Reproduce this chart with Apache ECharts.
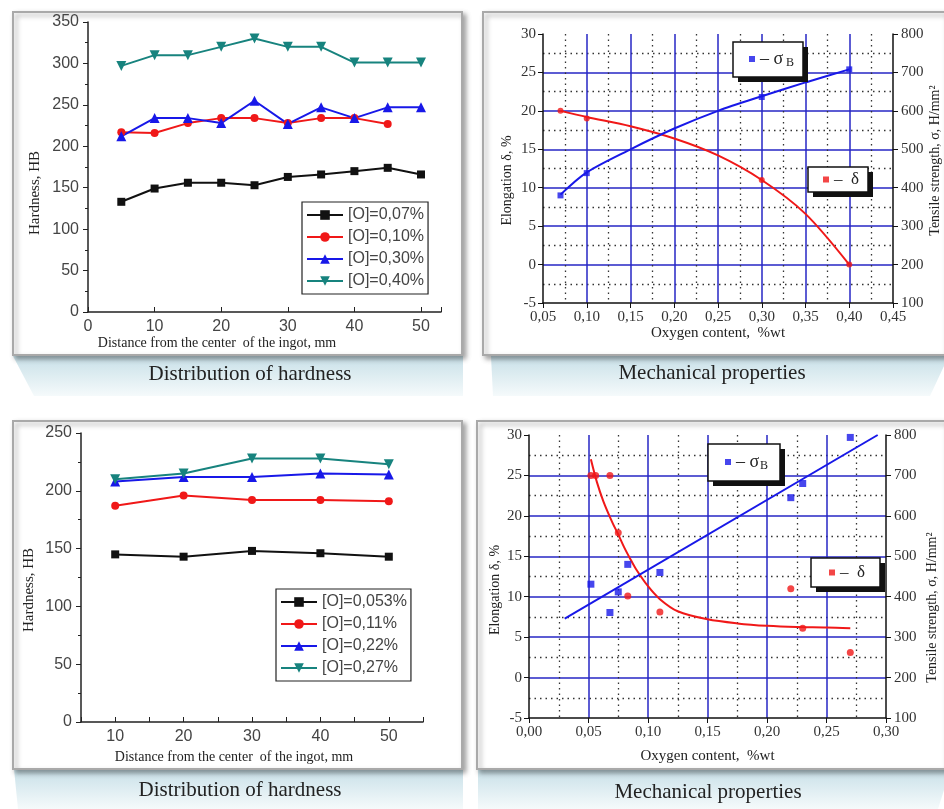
<!DOCTYPE html>
<html>
<head>
<meta charset="utf-8">
<script src="https://cdn.jsdelivr.net/npm/echarts@6/dist/echarts.min.js"></script>
<style>
  html, body { margin: 0; padding: 0; background: #fff; }
  #chart { width: 944px; height: 809px; }
</style>
</head>
<body>
<div id="chart"></div>
<script>
// --- Distribution of hardness, top panel
const distTop = [5, 10, 15, 20, 25, 30, 35, 40, 45, 50];
const hb007 = [133, 149, 156, 156, 153, 163, 166, 170, 174, 166];
const hb010 = [217, 216, 228, 234, 234, 228, 234, 234, 227];
const hb030 = [212, 234, 234, 228, 255, 227, 247, 234, 247, 247];
const hb040 = [297, 310, 310, 320, 330, 320, 320, 301, 301, 301];
const namesTop = ['[O]=0,07%', '[O]=0,10%', '[O]=0,30%', '[O]=0,40%'];

// --- Distribution of hardness, bottom panel
const distBottom = [10, 20, 30, 40, 50];
const hb0053 = [145, 143, 148, 146, 143];
const hb011 = [187, 196, 192, 192, 191];
const hb022 = [208, 212, 212, 215, 214];
const hb027 = [210, 215, 228, 228, 223];
const namesBottom = ['[O]=0,053%', '[O]=0,11%', '[O]=0,22%', '[O]=0,27%'];

// --- Mechanical properties, top panel
const oxygenTop = [0.07, 0.10, 0.30, 0.40];
const elongTop = [20, 19, 11, 0];
const strengthTop = [380, 438, 636, 708];
const fitOxygenTop = [0.07, 0.10, 0.15, 0.20, 0.25, 0.30, 0.35, 0.40];
const fitElongTop = [20, 19.2, 18, 16.4, 14.2, 11, 6.6, 0];
const fitStrengthTop = [382, 440, 500, 554, 600, 638, 674, 708];

// --- Mechanical properties, bottom panel
const oxygenSigmaBottom = [0.052, 0.068, 0.075, 0.083, 0.11, 0.22, 0.23, 0.27];
const strengthBottom = [431, 361, 412, 480, 460, 645, 680, 794];
const oxygenDeltaBottom = [0.052, 0.056, 0.068, 0.075, 0.083, 0.11, 0.22, 0.23, 0.27];
const elongBottom = [25, 25, 25, 17.9, 10.1, 8.1, 11, 6.1, 3.1];
const fitOxygenDeltaBottom = [0.052, 0.057, 0.0625, 0.07, 0.075, 0.08, 0.085, 0.09, 0.10, 0.11, 0.125, 0.15, 0.175, 0.20, 0.225, 0.25, 0.27];
const fitElongBottom = [27, 24.2, 21.8, 19.2, 17.7, 16.1, 14.7, 13.4, 11.3, 9.7, 8.2, 7.2, 6.7, 6.4, 6.25, 6.2, 6.1];
const fitOxygenSigmaBottom = [0.03, 0.293];
const fitStrengthBottom = [346, 800];

const legendText = {
  sigmaTop: '{t|– σ}{s|B}', sigmaBottom: '{t|– σ}{s|B}',
  deltaTop: '{d|–  δ}', deltaBottom: '{d|–  δ}'
};

const SERIF = "'Liberation Serif', 'Times New Roman', serif";
const SANS = "'Liberation Sans', Arial, sans-serif";
const GRID_BLUE = '#2626c4';
const RED = '#f01818';
const BLUE = '#1818e8';

const zip = (xs, ys) => ys.map((y, i) => [xs[i], y]);

function hardLine(name, xs, ys, color, symbol, size, rotate, axis) {
  return {
    name, type: 'line', xAxisIndex: axis, yAxisIndex: axis === 0 ? 0 : 3,
    data: zip(xs, ys), symbol, symbolSize: size, symbolRotate: rotate,
    color, lineStyle: { color, width: 2 }, itemStyle: { color }
  };
}

function hardX(gridIndex, min, max, interval, nameGap, shift) {
  return {
    type: 'value', gridIndex, min, max, interval,
    name: 'Distance from the center  of the ingot, mm', nameLocation: 'middle', nameGap,
    nameTextStyle: { fontFamily: SERIF, fontSize: 14, color: '#222', padding: [0, shift, 0, 0] },
    axisLine: { onZero: false, lineStyle: { color: '#222', width: 1.5 } },
    axisTick: { inside: true, length: 5, lineStyle: { color: '#222' } },
    axisLabel: { fontFamily: SANS, fontSize: 16, color: '#444', margin: 7,
      formatter: v => (v % 10 === 0 && v <= 50) ? String(v) : '' },
    splitLine: { show: false }
  };
}

function hardY(gridIndex, max, nameGap, shift) {
  return {
    type: 'value', gridIndex, min: 0, max, interval: 50,
    name: 'Hardness, HB', nameLocation: 'middle', nameGap,
    nameTextStyle: { fontFamily: SERIF, fontSize: 15, color: '#222', padding: [0, shift, 0, 0] },
    axisLine: { show: true, onZero: false, lineStyle: { color: '#222', width: 1.5 } },
    axisTick: { length: 5, lineStyle: { color: '#222' } },
    minorTick: { show: true, splitNumber: 2, length: 3, lineStyle: { color: '#222' } },
    axisLabel: { fontFamily: SANS, fontSize: 16, color: '#444', margin: 9 },
    splitLine: { show: false }
  };
}

function mechX(gridIndex, min, max, nameGap) {
  return {
    type: 'value', gridIndex, min, max, interval: 0.05,
    name: 'Oxygen content,  %wt', nameLocation: 'middle', nameGap,
    nameTextStyle: { fontFamily: SERIF, fontSize: 15, color: '#222' },
    axisLine: { onZero: false, lineStyle: { color: '#111', width: 1.5 } },
    axisTick: { length: 5, lineStyle: { color: '#111' } },
    axisLabel: { fontFamily: SERIF, fontSize: 15, color: '#333', margin: 7,
      formatter: v => v.toFixed(2).replace('.', ',') },
    splitLine: { show: true, showMinLine: false, showMaxLine: false, lineStyle: { color: GRID_BLUE, width: 1.5 } },
    minorTick: { show: false, splitNumber: 2 },
    minorSplitLine: { show: true, lineStyle: { color: '#333', width: 1.3, type: [1.5, 4] } }
  };
}

function mechYLeft(gridIndex, nameGap, shift) {
  return {
    type: 'value', gridIndex, min: -5, max: 30, interval: 5,
    name: 'Elongation δ, %', nameLocation: 'middle', nameGap,
    nameTextStyle: { fontFamily: SERIF, fontSize: 14, color: '#222', padding: [0, shift, 0, 0] },
    axisLine: { show: true, onZero: false, lineStyle: { color: '#111', width: 1.5 } },
    axisTick: { length: 5, lineStyle: { color: '#111' } },
    axisLabel: { fontFamily: SERIF, fontSize: 15, color: '#333', margin: 7 },
    splitLine: { show: true, showMinLine: false, showMaxLine: false, lineStyle: { color: GRID_BLUE, width: 1.5 } },
    minorTick: { show: false, splitNumber: 2 },
    minorSplitLine: { show: true, lineStyle: { color: '#333', width: 1.3, type: [1.5, 4] } }
  };
}

function mechYRight(gridIndex, nameGap, padding) {
  return {
    type: 'value', gridIndex, min: 100, max: 800, interval: 100, position: 'right',
    name: 'Tensile strength, σ, H/mm²', nameLocation: 'middle', nameGap, nameRotate: 90,
    nameTextStyle: { fontFamily: SERIF, fontSize: 14, color: '#222', padding },
    axisLine: { show: true, onZero: false, lineStyle: { color: '#111', width: 1.5 } },
    axisTick: { length: 5, lineStyle: { color: '#111' } },
    axisLabel: { fontFamily: SERIF, fontSize: 15, color: '#333', margin: 8 },
    splitLine: { show: false }
  };
}

// boxed legend of the mechanical charts; the drop shadow is a graphic rect behind it
function mechLegend(name, left, top, padding, gap, textWidth) {
  return {
    data: [name], left, top, icon: 'rect', itemWidth: 6, itemHeight: 6, itemTextGap: gap,
    selectedMode: false, backgroundColor: '#fff', borderColor: '#111', borderWidth: 1.5,
    borderRadius: 0, padding, z: 6,
    formatter: n => legendText[n],
    textStyle: { fontFamily: SERIF, fontSize: 17, color: '#222',
      rich: {
        t: { fontFamily: SERIF, fontSize: 18, color: '#222', width: textWidth - 10, lineHeight: 20 },
        s: { fontFamily: SERIF, fontSize: 12, color: '#222', width: 9, lineHeight: 12, padding: [8, 0, 0, 1] },
        d: { fontFamily: SERIF, fontSize: 17, color: '#222', width: textWidth, lineHeight: 17 }
      } }
  };
}

function legendShadow(x, y, width, height) {
  return { type: 'rect', z: 5, shape: { x: x + 5, y: y + 5, width, height }, style: { fill: '#111' } };
}

function hardLegend(data, left, top) {
  return {
    data, left, top, orient: 'vertical', itemWidth: 36, itemHeight: 12, itemGap: 4, itemTextGap: 3,
    selectedMode: false, borderColor: '#222', borderWidth: 1.2, borderRadius: 0, padding: [4, 4, 4, 4],
    textStyle: { fontFamily: SANS, fontSize: 16, color: '#444', lineHeight: 18 }
  };
}

const tabFill = {
  type: 'linear', x: 0, y: 0, x2: 0, y2: 1,
  colorStops: [{ offset: 0, color: '#c8e0e8' }, { offset: 1, color: '#f5fafb' }]
};
const frameStyle = { fill: '#fff', stroke: '#a9a9a9', lineWidth: 2,
  shadowBlur: 5, shadowOffsetX: 3, shadowOffsetY: 3, shadowColor: 'rgba(0,0,0,0.35)' };

function caption(text, x, y) {
  return { type: 'text', x, y, z: 5, style: { text, fontFamily: SERIF, fontSize: 21, fill: '#222',
    align: 'center', verticalAlign: 'middle' } };
}

const chart = echarts.init(document.getElementById('chart'));

chart.setOption({
  backgroundColor: '#fff',
  animation: false,
  graphic: { elements: [
    { type: 'polygon', z: -20, shape: { points: [[13, 356], [463, 356], [463, 396], [34, 396]] }, style: { fill: tabFill } },
    { type: 'polygon', z: -20, shape: { points: [[491, 356], [944, 356], [944, 366], [930, 396], [493, 396]] }, style: { fill: tabFill } },
    { type: 'polygon', z: -20, shape: { points: [[14, 769], [463, 769], [463, 809], [18, 809]] }, style: { fill: tabFill } },
    { type: 'polygon', z: -20, shape: { points: [[478, 769], [944, 769], [944, 790], [938, 809], [478, 809]] }, style: { fill: tabFill } },
    { type: 'rect', z: -10, shape: { x: 13, y: 12, width: 449, height: 343 }, style: frameStyle },
    { type: 'rect', z: -10, shape: { x: 483, y: 12, width: 462, height: 343 }, style: frameStyle },
    { type: 'rect', z: -10, shape: { x: 13, y: 421, width: 449, height: 348 }, style: frameStyle },
    { type: 'rect', z: -10, shape: { x: 477, y: 421, width: 468, height: 348 }, style: frameStyle },
    legendShadow(733, 42, 70, 35),
    legendShadow(808, 167, 60, 25),
    legendShadow(708, 444, 72, 37),
    legendShadow(811, 558, 69, 29),
    caption('Distribution of hardness', 250, 374),
    caption('Mechanical properties', 712, 373),
    caption('Distribution of hardness', 240, 790),
    caption('Mechanical properties', 708, 792)
  ] },
  grid: [
    { left: 88, top: 22, width: 353, height: 290 },
    { left: 543, top: 34, width: 350, height: 269 },
    { left: 81, top: 433, width: 342, height: 289 },
    { left: 529, top: 435, width: 357, height: 283 }
  ],
  xAxis: [
    hardX(0, 0, 53, 10, 18, 95),
    mechX(1, 0.05, 0.45, 21),
    hardX(2, 5, 55, 5, 28, 36),
    mechX(3, 0, 0.30, 31)
  ],
  yAxis: [
    hardY(0, 350, 45, 52),
    mechYLeft(1, 29, 24),
    mechYRight(1, 35, [0, 0, 0, 16]),
    hardY(2, 250, 44, 25),
    mechYLeft(3, 27, 27),
    mechYRight(3, 39, [0, 62, 0, 0])
  ],
  legend: [
    hardLegend(namesTop, 302, 202),
    hardLegend(namesBottom, 276, 589),
    mechLegend('sigmaTop', 733, 42, [7, 8, 8, 16], 10, 35),
    mechLegend('deltaTop', 808, 167, [4, 8, 4, 15], 7, 26),
    mechLegend('sigmaBottom', 708, 444, [8, 11, 9, 17], 11, 33),
    mechLegend('deltaBottom', 811, 558, [6, 13, 6, 18], 10, 27)
  ],
  series: [
    hardLine(namesTop[0], distTop, hb007, '#111', 'rect', 8, 0, 0),
    hardLine(namesTop[1], distTop, hb010, RED, 'circle', 8, 0, 0),
    hardLine(namesTop[2], distTop, hb030, BLUE, 'triangle', 10, 0, 0),
    hardLine(namesTop[3], distTop, hb040, '#17837e', 'triangle', 10, 180, 0),
    hardLine(namesBottom[0], distBottom, hb0053, '#111', 'rect', 8, 0, 2),
    hardLine(namesBottom[1], distBottom, hb011, RED, 'circle', 8, 0, 2),
    hardLine(namesBottom[2], distBottom, hb022, BLUE, 'triangle', 10, 0, 2),
    hardLine(namesBottom[3], distBottom, hb027, '#17837e', 'triangle', 10, 180, 2),

    { name: 'deltaTopFit', type: 'line', xAxisIndex: 1, yAxisIndex: 1, smooth: 0.3,
      showSymbol: false, data: zip(fitOxygenTop, fitElongTop), lineStyle: { color: RED, width: 2 } },
    { name: 'sigmaTopFit', type: 'line', xAxisIndex: 1, yAxisIndex: 2, smooth: 0.3,
      showSymbol: false, data: zip(fitOxygenTop, fitStrengthTop), lineStyle: { color: BLUE, width: 2 } },
    { name: 'deltaTop', type: 'scatter', xAxisIndex: 1, yAxisIndex: 1, symbol: 'circle', symbolSize: 6,
      data: zip(oxygenTop, elongTop), itemStyle: { color: RED }, z: 4 },
    { name: 'sigmaTop', type: 'scatter', xAxisIndex: 1, yAxisIndex: 2, symbol: 'rect', symbolSize: 6,
      data: zip(oxygenTop, strengthTop), itemStyle: { color: BLUE }, z: 4 },

    { name: 'deltaBottomFit', type: 'line', xAxisIndex: 3, yAxisIndex: 4, smooth: 0.3,
      showSymbol: false, data: zip(fitOxygenDeltaBottom, fitElongBottom), lineStyle: { color: RED, width: 2 } },
    { name: 'sigmaBottomFit', type: 'line', xAxisIndex: 3, yAxisIndex: 5,
      showSymbol: false, data: zip(fitOxygenSigmaBottom, fitStrengthBottom), lineStyle: { color: BLUE, width: 2 } },
    { name: 'deltaBottom', type: 'scatter', xAxisIndex: 3, yAxisIndex: 4, symbol: 'circle', symbolSize: 7,
      data: zip(oxygenDeltaBottom, elongBottom), itemStyle: { color: RED }, z: 4 },
    { name: 'sigmaBottom', type: 'scatter', xAxisIndex: 3, yAxisIndex: 5, symbol: 'rect', symbolSize: 7,
      data: zip(oxygenSigmaBottom, strengthBottom), itemStyle: { color: BLUE }, z: 4 }
  ]
});
</script>
</body>
</html>
